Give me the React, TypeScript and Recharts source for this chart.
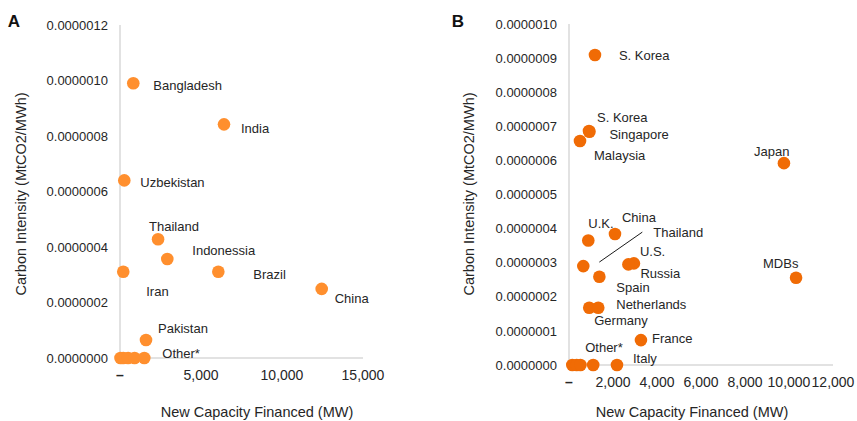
import { ScatterChart, Scatter, XAxis, YAxis } from 'recharts';

const FONT = '"Liberation Sans", Arial, Helvetica, sans-serif';
const TEXT = '#262626';

// Panel A: host countries
const namesA = ['Bangladesh', 'India', 'Uzbekistan', 'Thailand', 'Indonessia', 'Iran', 'Brazil', 'China', 'Pakistan', '', '', '', '', 'Other*'];
const capacityA = [820, 6420, 265, 2350, 2920, 200, 6070, 12450, 1605, 30, 200, 500, 900, 1500];
const intensityA = [9.9e-7, 8.42e-7, 6.4e-7, 4.28e-7, 3.57e-7, 3.11e-7, 3.11e-7, 2.49e-7, 6.5e-8, 0, 0, 0, 0, 0];
const xTicksA = [0, 5000, 10000, 15000];
const yTicksA = [0, 2e-7, 4e-7, 6e-7, 8e-7, 1e-6, 1.2e-6];

// Panel B: financing countries / institutions
const namesB = ['S. Korea', 'S. Korea', 'Singapore', 'Malaysia', 'Japan', 'U.K.', 'China', 'Thailand', 'U.S.', 'Russia', 'Spain', 'MDBs', 'Germany', 'Netherlands', 'France', '', '', '', 'Other*', 'Italy'];
const capacityB = [1180, 909, 930, 500, 9770, 877, 2090, 650, 2950, 2700, 1380, 10320, 920, 1330, 3270, 150, 350, 520, 1100, 2180];
const intensityB = [9.09e-7, 6.86e-7, 6.84e-7, 6.57e-7, 5.92e-7, 3.65e-7, 3.84e-7, 2.9e-7, 2.98e-7, 2.95e-7, 2.59e-7, 2.56e-7, 1.68e-7, 1.68e-7, 7.3e-8, 0, 0, 0, 0, 0];
const xTicksB = [0, 2000, 4000, 6000, 8000, 10000, 12000];
const yTicksB = [0, 1e-7, 2e-7, 3e-7, 4e-7, 5e-7, 6e-7, 7e-7, 8e-7, 9e-7, 1e-6];

// label placement relative to each dot: [dx, dy] (+ optional leader line)
const labelPosA: number[][] = [
  [20, 2], [17, 4], [16, 2], [-9, -13], [25, -8], [23, 20], [35, 3], [13, 10], [12, -12],
  [0, 0], [0, 0], [0, 0], [0, 0], [18, -5],
];
const labelPosB: number[][] = [
  [24, 0], [8, -14], [20, 3], [14, 14], [-30, -12], [0, -17], [7, -17], [70, -34, 16, -4, 59, -34],
  [6, -12], [12, 9], [17, 11], [-33, -14], [5, 13], [18, -3], [11, -2],
  [0, 0], [0, 0], [0, 0], [-8, -18], [16, -7],
];

type Row = { name: string; x: number; y: number; pos: number[] };

const buildRows = (names: string[], xs: number[], ys: number[], pos: number[][]): Row[] =>
  names.map((name, i) => ({ name, x: xs[i], y: ys[i], pos: pos[i] }));

const rowsA = buildRows(namesA, capacityA, intensityA, labelPosA);
const rowsB = buildRows(namesB, capacityB, intensityB, labelPosB);

const fmtX = (v: number) => (v === 0 ? '–' : v.toLocaleString('en-US'));

function XTick({ x, y, payload }: any) {
  const zero = payload.value === 0;
  return (
    <text x={x} y={y} dy="0.71em" textAnchor="middle" fontSize={14} fill={TEXT} fontFamily={FONT} fontWeight={zero ? 700 : 400}>
      {fmtX(payload.value)}
    </text>
  );
}

function makeDot(color: string) {
  return (p: any) => <circle cx={p.cx} cy={p.cy} r={6.3} fill={color} />;
}

function PointLabel(p: any) {
  const row: Row = p.payload;
  if (!row || !row.name) return <g />;
  const [dx, dy, x1, y1, x2, y2] = row.pos;
  return (
    <g>
      {x1 !== undefined && (
        <line x1={p.cx + x1} y1={p.cy + y1} x2={p.cx + x2} y2={p.cy + y2} stroke="#1a1a1a" strokeWidth={1} />
      )}
      <text x={p.cx + dx} y={p.cy + dy} dy="0.35em" fontSize={13} fill={TEXT} fontFamily={FONT}>
        {row.name}
      </text>
    </g>
  );
}

interface PanelProps {
  rows: Row[];
  color: string;
  width: number;
  xMax: number;
  xTicks: number[];
  yMax: number;
  yTicks: number[];
  top: number;
  right: number;
  yAxisWidth: number;
  xAxisHeight: number;
}

function Panel({ rows, color, width, xMax, xTicks, yMax, yTicks, top, right, yAxisWidth, xAxisHeight }: PanelProps) {
  return (
    <ScatterChart width={width} height={421} margin={{ top, right, bottom: 0, left: 0 }}>
      <XAxis
        type="number"
        dataKey="x"
        domain={[0, xMax]}
        ticks={xTicks}
        interval={0}
        height={xAxisHeight}
        tickMargin={6}
        tick={<XTick />}
        tickLine={false}
        axisLine={{ stroke: '#d9d9d9', strokeWidth: 1.5 }}
      />
      <YAxis
        type="number"
        dataKey="y"
        domain={[0, yMax]}
        ticks={yTicks}
        interval={0}
        width={yAxisWidth}
        tickMargin={6}
        tickFormatter={(v: number) => v.toFixed(7)}
        tick={{ fontSize: 13, fill: TEXT, fontFamily: FONT }}
        tickLine={false}
        axisLine={{ stroke: '#d9d9d9', strokeWidth: 1.5 }}
      />
      <Scatter data={rows} shape={makeDot(color)} isAnimationActive={false} />
      <Scatter data={rows} shape={PointLabel} isAnimationActive={false} />
    </ScatterChart>
  );
}

export default function App() {
  return (
    <div style={{ position: 'absolute', left: 0, top: 0, width: 857, height: 421, background: '#fff', fontFamily: FONT }}>
      <div style={{ position: 'absolute', left: 0, top: 0 }}>
        <Panel rows={rowsA} color="#FF8F2E" width={430} xMax={15000} xTicks={xTicksA} yMax={1.2e-6} yTicks={yTicksA}
          top={25} right={67} yAxisWidth={120} xAxisHeight={63} />
      </div>
      <div style={{ position: 'absolute', left: 430, top: 0 }}>
        <Panel rows={rowsB} color="#F06B05" width={427} xMax={12000} xTicks={xTicksB} yMax={1e-6} yTicks={yTicksB}
          top={24} right={24} yAxisWidth={139} xAxisHeight={56} />
      </div>
      <svg width={857} height={421} style={{ position: 'absolute', left: 0, top: 0, pointerEvents: 'none' }}>
        <text x={14} y={21} dy="0.35em" textAnchor="middle" fontSize={17} fontWeight={700} fill="#111" fontFamily={FONT}>A</text>
        <text x={458} y={21} dy="0.35em" textAnchor="middle" fontSize={17} fontWeight={700} fill="#111" fontFamily={FONT}>B</text>
        <text x={257} y={412} dy="0.35em" textAnchor="middle" fontSize={14.5} fill={TEXT} fontFamily={FONT}>New Capacity Financed (MW)</text>
        <text x={692} y={412} dy="0.35em" textAnchor="middle" fontSize={14.5} fill={TEXT} fontFamily={FONT}>New Capacity Financed (MW)</text>
        <text x={21} y={194} dy="0.35em" textAnchor="middle" fontSize={14.5} fill={TEXT} fontFamily={FONT} transform="rotate(-90 21 194)">Carbon Intensity (MtCO2/MWh)</text>
        <text x={469} y={194} dy="0.35em" textAnchor="middle" fontSize={14.5} fill={TEXT} fontFamily={FONT} transform="rotate(-90 469 194)">Carbon Intensity (MtCO2/MWh)</text>
      </svg>
    </div>
  );
}
